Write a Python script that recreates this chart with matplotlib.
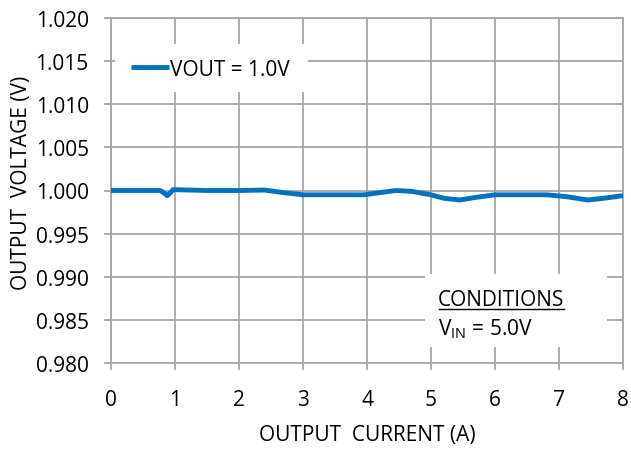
import numpy as np
import matplotlib
matplotlib.use("Agg")
import matplotlib.pyplot as plt
from matplotlib.lines import Line2D
from matplotlib.patches import Rectangle

plt.rcParams['font.family'] = ['Open Sans', 'DejaVu Sans']
plt.rcParams['mathtext.fontset'] = 'custom'
plt.rcParams['mathtext.rm'] = 'Open Sans'
plt.rcParams['mathtext.it'] = 'Open Sans'

# output current [A] vs output voltage [V]
current = [0.0, 0.5, 0.77, 0.84, 0.88, 0.93, 0.97, 1.5, 2.0, 2.4, 2.7, 3.0,
           3.5, 3.95, 4.2, 4.45, 4.7, 5.0, 5.2, 5.45, 5.7, 6.0, 6.8, 7.1,
           7.45, 7.7, 8.0]
vout = [1.0000, 1.0000, 1.0000, 0.99965, 0.9994, 0.99975, 1.0001, 1.0000,
        1.0000, 1.00005, 0.99975, 0.9995, 0.9995, 0.9995, 0.99975, 1.0000,
        0.9999, 0.9995, 0.9991, 0.9989, 0.9992, 0.9995, 0.9995, 0.9993,
        0.9989, 0.9991, 0.9994]

x_ticks = [0, 1, 2, 3, 4, 5, 6, 7, 8]
y_ticks = [0.980, 0.985, 0.990, 0.995, 1.000, 1.005, 1.010, 1.015, 1.020]

grid_col = '#a6a6a6'
fs = 15

fig = plt.figure(figsize=(6.31, 4.52), dpi=100)
ax = fig.add_axes([111 / 631, 1 - 364 / 452, 512 / 631, 345 / 452])

ax.plot(current, vout, color='#0070c0', lw=3.5, solid_joinstyle='round',
        solid_capstyle='butt', label='VOUT = 1.0V', zorder=5)

ax.set_xlim(0, 8)
ax.set_ylim(0.98, 1.02)
ax.set_xticks(x_ticks)
ax.set_xticklabels([str(t) for t in x_ticks])
ax.set_yticks(y_ticks)
ax.set_yticklabels(['%.3f' % t for t in y_ticks])
ax.grid(True, color=grid_col, lw=1.3)
ax.set_axisbelow(True)
for s in ax.spines.values():
    s.set_color(grid_col)
    s.set_linewidth(1.3)
ax.tick_params(axis='both', colors=grid_col, length=5, width=1.3,
               labelsize=fs, labelcolor='black')
ax.tick_params(axis='x', pad=14)
ax.tick_params(axis='y', pad=11)

ax.set_xlabel('OUTPUT  CURRENT (A)', fontsize=fs, labelpad=10)
ax.set_ylabel('OUTPUT  VOLTAGE (V)', fontsize=fs)
ax.yaxis.set_label_coords(-0.155, 0.526)

# legend, on a white patch that hides the grid
ax.add_patch(Rectangle((0.008, 0.786), 0.377, 0.14, transform=ax.transAxes,
                       facecolor='white', edgecolor='none', zorder=3))
ax.legend(loc='center left', bbox_to_anchor=(0.039, 0.852), fontsize=fs,
          frameon=False, handlelength=1.83, handletextpad=0.05,
          borderpad=0, borderaxespad=0)

# conditions box
ax.add_patch(Rectangle((0.613, 0.046), 0.356, 0.212, transform=ax.transAxes,
                       facecolor='white', edgecolor='none', zorder=3))
t1 = ax.text(0.639, 0.168, 'CONDITIONS', transform=ax.transAxes, fontsize=fs,
             va='baseline', ha='left', zorder=4)
ax.text(0.639, 0.084, r'$\mathrm{V_{IN}}$ = 5.0V', transform=ax.transAxes,
        fontsize=fs, va='baseline', ha='left', zorder=4)

fig.canvas.draw()
bb = t1.get_window_extent()
yl = bb.y0 + 1.5
fig.add_artist(Line2D([bb.x0 + 1, bb.x1 - 1], [yl, yl], transform=None,
                      color='black', lw=1.0))

fig.savefig('out.png', dpi=100)
